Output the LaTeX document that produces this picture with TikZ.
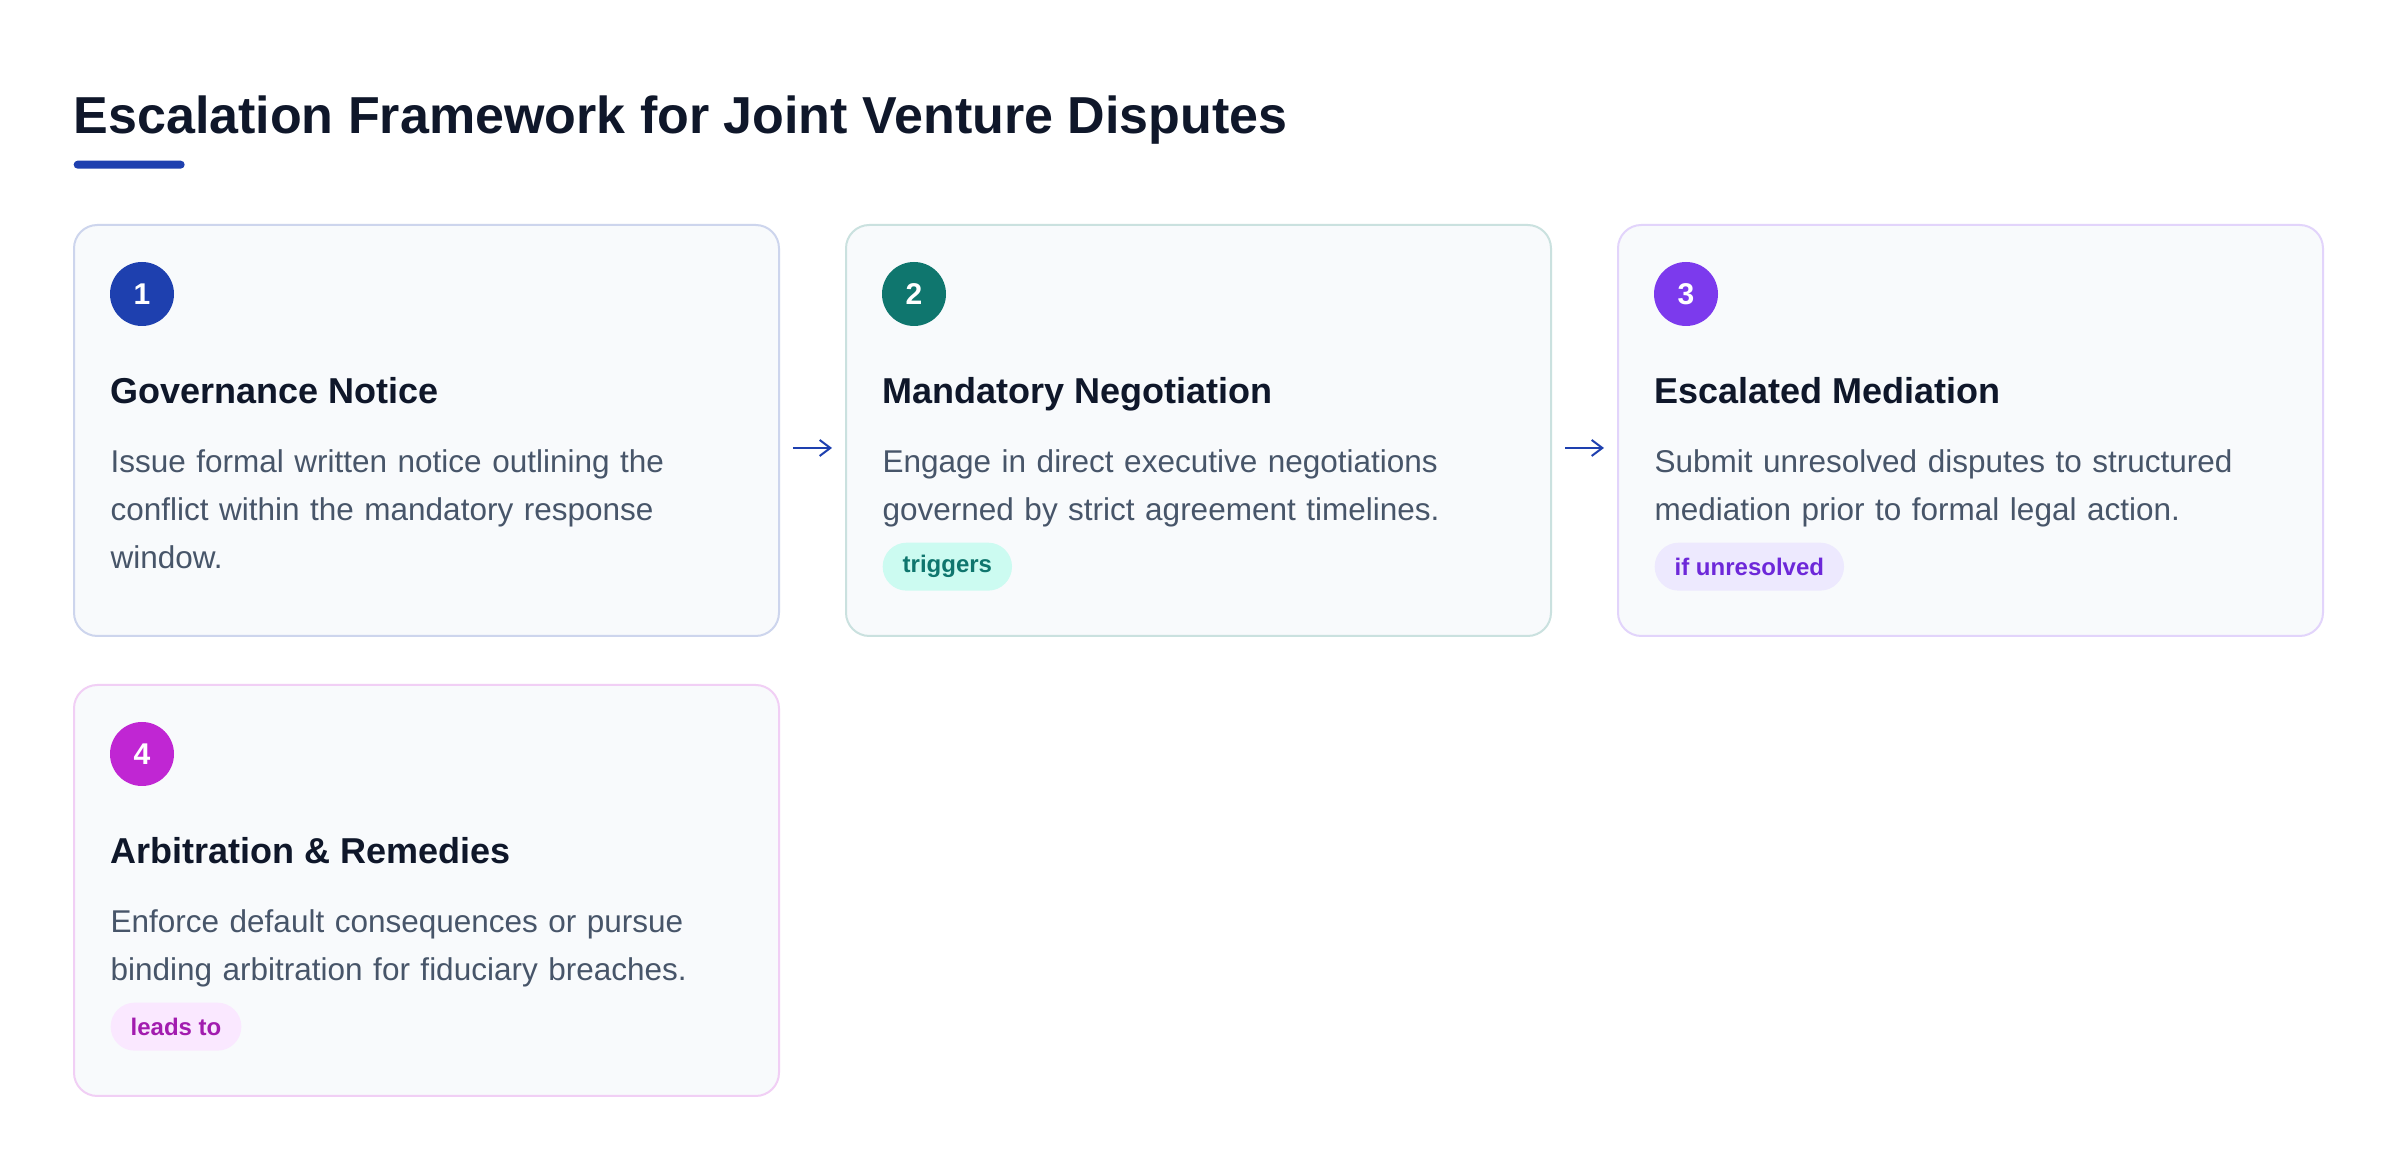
\documentclass[tikz,border=0pt]{standalone}
\usepackage{fontspec}
\setmainfont{Liberation Sans}
\usetikzlibrary{arrows.meta}

\definecolor{ink}{HTML}{0F172A}
\definecolor{slate}{HTML}{475569}
\definecolor{cardbg}{HTML}{F8FAFC}
\definecolor{blueA}{HTML}{1E40AF}
\definecolor{tealA}{HTML}{0F766E}
\definecolor{violetA}{HTML}{7C3AED}
\definecolor{fuchsiaA}{HTML}{C026D3}
\definecolor{tealbg}{HTML}{CCFBF1}
\definecolor{violetbg}{HTML}{EDE9FE}
\definecolor{violettx}{HTML}{6D28D9}
\definecolor{fuchsiabg}{HTML}{FAE8FF}
\definecolor{fuchsiatx}{HTML}{A21CAF}

\begin{document}
\begin{tikzpicture}[x=0.3pt,y=-0.3pt]
    \tikzstyle{card}=[draw,line width=0.6pt,fill=cardbg,rounded corners=7pt,minimum width=211.5pt,minimum height=123.3pt,anchor=north west,inner sep=0pt]
    \tikzstyle{num}=[circle,minimum size=19.2pt,inner sep=0pt,text=white,font=\fontsize{9}{9}\selectfont\bfseries]
    \tikzstyle{head}=[anchor=base west,inner sep=0pt,text=ink,font=\fontsize{10.8}{13}\selectfont\bfseries]
    \tikzstyle{body}=[anchor=base west,inner sep=0pt,text=slate,text width=189pt,align=left,font=\fontsize{9.45}{14.4}\selectfont]
    \tikzstyle{tag}=[anchor=north west,rounded corners=7.2pt,minimum height=14.4pt,inner xsep=6pt,inner ysep=0pt,font=\fontsize{7.2}{7.2}\selectfont\bfseries]
    \tikzstyle{flow}=[-{Straight Barb[length=3.2pt,width=4.8pt]},line width=0.6pt,draw=blueA,shorten <=3.9pt,shorten >=3.9pt]

    \useasboundingbox[fill=white] (0,0) rectangle (2400,1168);

    % title and underline
    \node[anchor=base west,inner sep=0pt,text=ink,font=\fontsize{15.6}{18}\selectfont\bfseries] at (73,134) (title) {Escalation Framework for Joint Venture Disputes};
    \node[anchor=north west,fill=blueA,rounded corners=1.2pt,minimum width=33.3pt,minimum height=2.4pt,inner sep=0pt] at (73,160) (bar) {};

    % cards
    \node[card,draw=blueA!22] at (73,224) (card1) {};
    \node[card,draw=tealA!22] at (845,224) (card2) {};
    \node[card,draw=violetA!22] at (1617,224) (card3) {};
    \node[card,draw=fuchsiaA!22] at (73,684) (card4) {};

    % step 1
    \node[num,fill=blueA] at (142,294) (num1) {1};
    \node[head] at (110,404) (head1) {Governance Notice};
    \node[body] at (110,473) (body1) {Issue formal written notice outlining the\\conflict within the mandatory response\\window.};

    % step 2
    \node[num,fill=tealA] at (914,294) (num2) {2};
    \node[head] at (882,404) (head2) {Mandatory Negotiation};
    \node[body] at (882,473) (body2) {Engage in direct executive negotiations\\governed by strict agreement timelines.};
    \node[tag,fill=tealbg,text=tealA] at (882,542) (tag2) {triggers};

    % step 3
    \node[num,fill=violetA] at (1686,294) (num3) {3};
    \node[head] at (1654,404) (head3) {Escalated Mediation};
    \node[body] at (1654,473) (body3) {Submit unresolved disputes to structured\\mediation prior to formal legal action.};
    \node[tag,fill=violetbg,text=violettx] at (1654,542) (tag3) {if unresolved};

    % step 4
    \node[num,fill=fuchsiaA] at (142,754) (num4) {4};
    \node[head] at (110,864) (head4) {Arbitration \& Remedies};
    \node[body] at (110,933) (body4) {Enforce default consequences or pursue\\binding arbitration for fiduciary breaches.};
    \node[tag,fill=fuchsiabg,text=fuchsiatx] at (110,1002) (tag4) {leads to};

    \draw[flow] ([yshift=-5.25pt]card1.east) -- ([yshift=-5.25pt]card2.west);
    \draw[flow] ([yshift=-5.25pt]card2.east) -- ([yshift=-5.25pt]card3.west);
\end{tikzpicture}
\end{document}
